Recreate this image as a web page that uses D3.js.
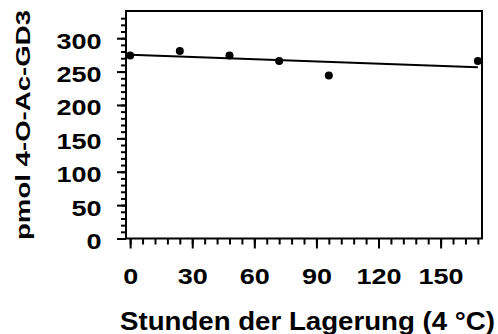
<!DOCTYPE html>
<html>
<head>
<meta charset="utf-8">
<script src="https://cdn.jsdelivr.net/npm/d3@7"></script>
<style>
  body { margin: 0; background: #fff; }
  text { font-family: "Liberation Sans", Arial, sans-serif; font-weight: bold; fill: #000; }
</style>
</head>
<body>
<div id="container"></div>
<script>
// data
const hours = [0, 24, 48, 72, 96, 168];
const pmol = [274, 281, 274, 266, 244, 266];
const xTicks = [0, 30, 60, 90, 120, 150];
const yTicks = [0, 50, 100, 150, 200, 250, 300];
const xTitle = "Stunden der Lagerung (4 °C)";
const yTitle = "pmol 4-O-Ac-GD3";

const width = 498, height = 334;
const margin = { top: 11, right: 16, bottom: 96, left: 126 };

const svg = d3.select("#container").append("svg")
  .attr("width", width).attr("height", height);

const x = d3.scaleLinear().domain([-2, 170]).range([margin.left, width - margin.right]);
const y = d3.scaleLinear().domain([0, 340]).range([height - margin.bottom + 0.5, margin.top + 0.5]);

const y0 = y(0);

// minor ticks
svg.append("g")
  .attr("transform", `translate(${margin.left},0)`)
  .call(d3.axisLeft(y).tickValues(d3.range(0, 340, 10)).tickSize(5).tickFormat(""))
  .call(g => g.select(".domain").remove())
  .call(g => g.selectAll("line").attr("stroke-width", 2));

svg.append("g")
  .attr("transform", `translate(0,${y0})`)
  .call(d3.axisBottom(x).tickValues(d3.range(0, 169, 6)).tickSize(6).tickFormat(""))
  .call(g => g.select(".domain").remove())
  .call(g => g.selectAll("line").attr("stroke-width", 2));

// major ticks + labels
svg.append("g")
  .attr("transform", `translate(${margin.left},0)`)
  .call(d3.axisLeft(y).tickValues(yTicks).tickSize(9))
  .call(g => g.select(".domain").remove())
  .call(g => g.selectAll("line").attr("stroke-width", 2))
  .call(g => g.selectAll("text")
    .attr("x", 0).attr("dy", null)
    .attr("text-anchor", "end")
    .style("font-size", "22.5px")
    .attr("transform", "translate(-24.5,10) scale(1.2,1)"));

svg.append("g")
  .attr("transform", `translate(0,${y0})`)
  .call(d3.axisBottom(x).tickValues(xTicks).tickSize(10))
  .call(g => g.select(".domain").remove())
  .call(g => g.selectAll("line").attr("stroke-width", 2))
  .call(g => g.selectAll("text")
    .attr("y", 0).attr("dy", null)
    .attr("text-anchor", "middle")
    .style("font-size", "22.5px")
    .attr("transform", "translate(0,45) scale(1.2,1)"));

// frame
svg.append("rect")
  .attr("x", margin.left)
  .attr("y", margin.top)
  .attr("width", width - margin.right - margin.left)
  .attr("height", y0 - margin.top)
  .attr("fill", "none")
  .attr("stroke", "#000")
  .attr("stroke-width", 2);

// linear regression from the points
const mx = d3.mean(hours), my = d3.mean(pmol);
const sxy = d3.sum(hours, (h, i) => (h - mx) * (pmol[i] - my));
const sxx = d3.sum(hours, h => (h - mx) ** 2);
const slope = sxy / sxx, icpt = my - slope * mx;
const fitX = d3.extent(hours);

svg.append("path")
  .datum(fitX)
  .attr("d", d3.line().x(d => x(d)).y(d => y(icpt + slope * d)))
  .attr("fill", "none")
  .attr("stroke", "#000")
  .attr("stroke-width", 2);

svg.selectAll("circle.pt")
  .data(hours)
  .join("circle")
  .attr("class", "pt")
  .attr("cx", d => x(d))
  .attr("cy", (d, i) => y(pmol[i]))
  .attr("r", 4)
  .attr("fill", "#000");

// titles
svg.append("text")
  .attr("x", 120).attr("y", 329.5)
  .attr("textLength", 375)
  .attr("lengthAdjust", "spacingAndGlyphs")
  .style("font-size", "26.5px")
  .text(xTitle);

svg.append("text")
  .attr("transform", "translate(30,240) rotate(-90)")
  .attr("textLength", 230)
  .attr("lengthAdjust", "spacingAndGlyphs")
  .style("font-size", "21px")
  .text(yTitle);
</script>
</body>
</html>
